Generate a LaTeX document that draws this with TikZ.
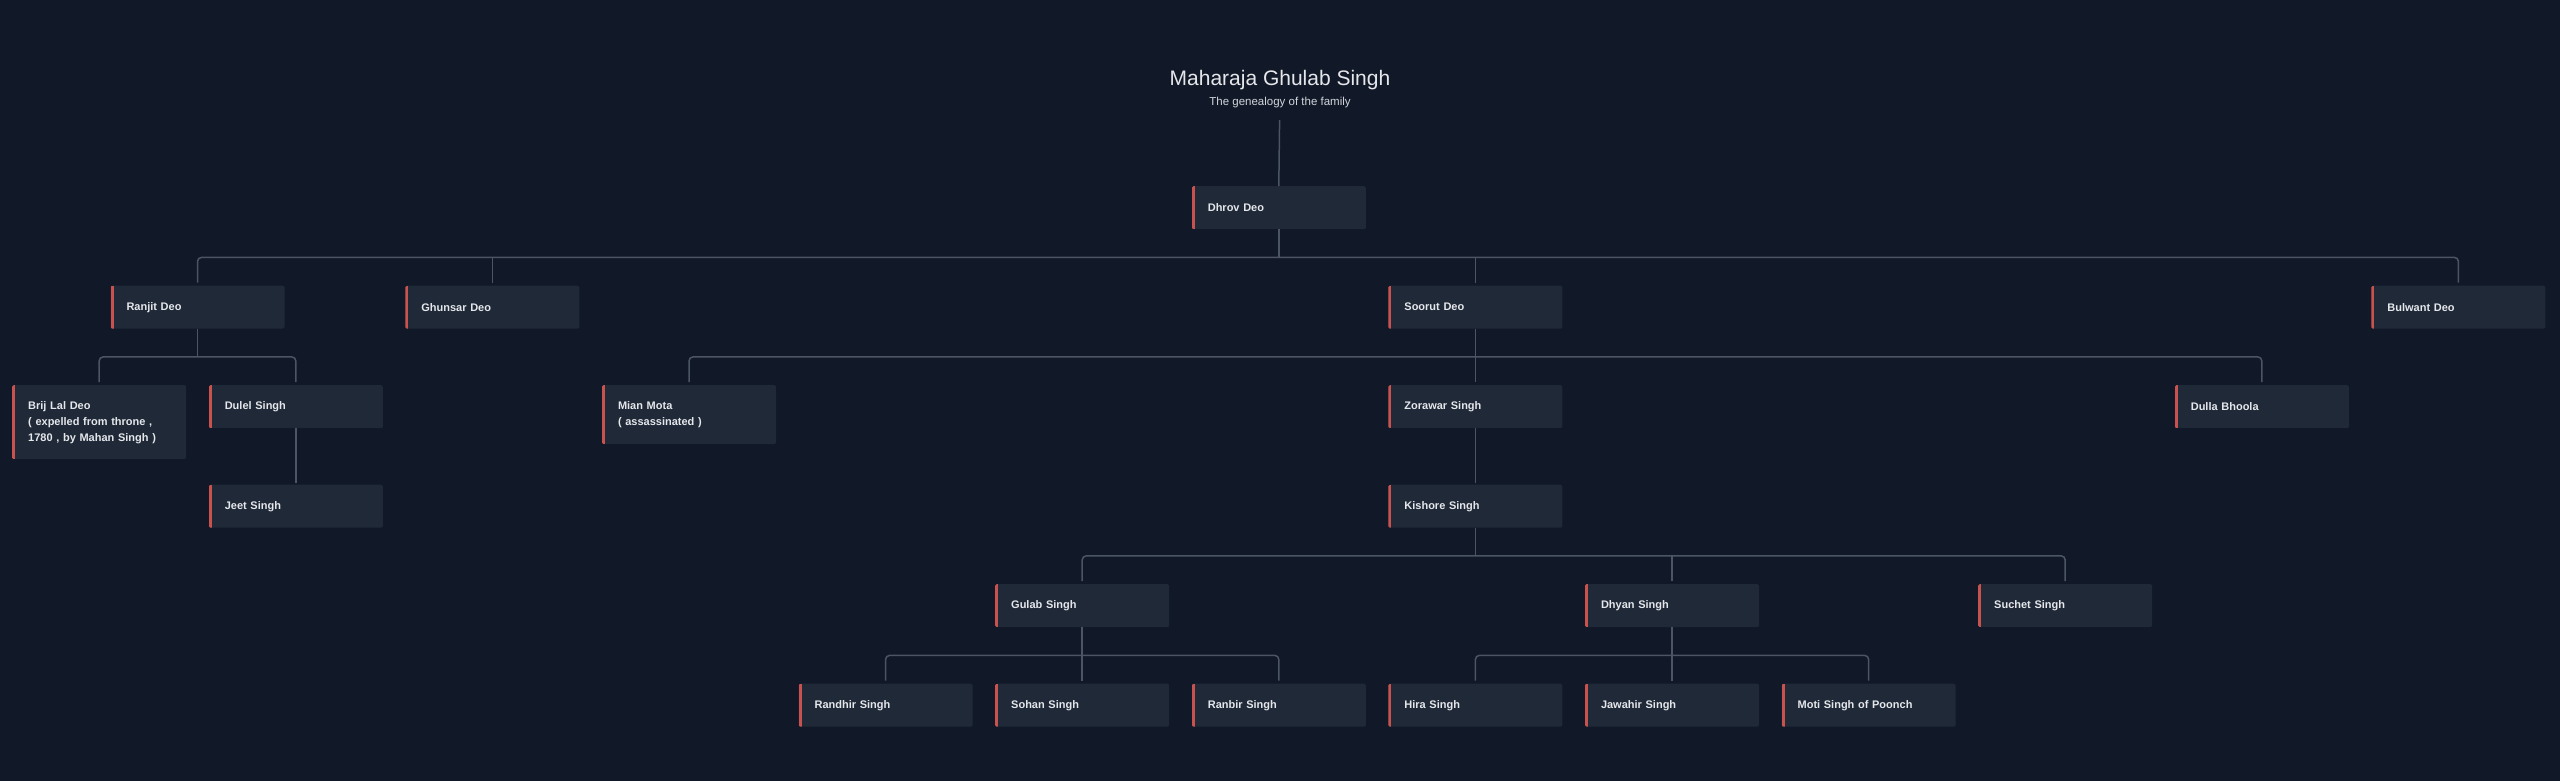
\documentclass[tikz,border=0pt]{standalone}
\usepackage{fontspec}
\setmainfont{Liberation Sans}
\definecolor{bg}{HTML}{111827}
\definecolor{card}{HTML}{1F2937}
\definecolor{accent}{HTML}{C9524F}
\definecolor{wire}{HTML}{4B5563}
\definecolor{ink}{HTML}{E5E7EB}
\definecolor{subink}{HTML}{D1D5DB}
\begin{document}
\begin{tikzpicture}[x=1pt,y=-1pt,
 person/.style={anchor=north west, fill=card, rounded corners=1.5pt,
   minimum width=174pt, minimum height=43pt, text width=142pt,
   inner xsep=16pt, inner ysep=2pt, align=left, text=ink,
   font=\fontsize{11}{16}\selectfont\bfseries,
   path picture={\fill[accent, sharp corners] (path picture bounding box.north west) rectangle ([xshift=3pt]path picture bounding box.south west);}},
 conn/.style={draw=wire, line width=1.5pt, rounded corners=4pt}]
\useasboundingbox (0,0) rectangle (2560,780);
\fill[bg] (-5,-5) rectangle (2565,785);

\node[anchor=base, text=ink, font=\fontsize{21}{25}\selectfont] (title) at (1280,85) {Maharaja Ghulab Singh};
\node[anchor=base, text=subink, font=\fontsize{11.5}{13}\selectfont] (subtitle) at (1280,105) {The genealogy of the family};
\coordinate (top) at (1279.6,120);

% row 0
\node[person] (dhrov) at (1191.6,186) {Dhrov Deo};
% row 1
\node[person] (ranjit) at (110.3,285.5) {Ranjit Deo};
\node[person] (ghunsar) at (405.2,285.5) {Ghunsar Deo};
\node[person] (soorut) at (1388.2,285.5) {Soorut Deo};
\node[person] (bulwant) at (2371.2,285.5) {Bulwant Deo};
% row 2
\node[person, minimum height=74pt] (brij) at (12,385) {Brij Lal Deo\\( expelled from throne ,\\1780 , by Mahan Singh )};
\node[person] (dulel) at (208.6,385) {Dulel Singh};
\node[person, minimum height=59pt] (mian) at (601.8,385) {Mian Mota\\( assassinated )};
\node[person] (zorawar) at (1388.2,385) {Zorawar Singh};
\node[person] (dulla) at (2174.6,385) {Dulla Bhoola};
% row 3
\node[person] (jeet) at (208.6,484.5) {Jeet Singh};
\node[person] (kishore) at (1388.2,484.5) {Kishore Singh};
% row 4
\node[person] (gulab) at (995,584) {Gulab Singh};
\node[person] (dhyan) at (1584.8,584) {Dhyan Singh};
\node[person] (suchet) at (1978,584) {Suchet Singh};
% row 5
\node[person] (randhir) at (798.4,683.5) {Randhir Singh};
\node[person] (sohan) at (995,683.5) {Sohan Singh};
\node[person] (ranbir) at (1191.6,683.5) {Ranbir Singh};
\node[person] (hira) at (1388.2,683.5) {Hira Singh};
\node[person] (jawahir) at (1584.8,683.5) {Jawahir Singh};
\node[person] (moti) at (1781.4,683.5) {Moti Singh of Poonch};

% connectors
\draw[conn] (top) -- (dhrov.north);

% Dhrov family
\coordinate (b0) at ([yshift=-28pt]dhrov.south);
\draw[conn] (dhrov.south) -- (b0);
\draw[conn] ([yshift=3pt]ranjit.north) |- (b0) -| ([yshift=3pt]bulwant.north);
\draw[conn] (b0 -| ghunsar.north) -- ([yshift=3pt]ghunsar.north);
\draw[conn] (b0 -| soorut.north) -- ([yshift=3pt]soorut.north);

% Ranjit family
\coordinate (b1) at ([yshift=-28pt]ranjit.south);
\draw[conn] (ranjit.south) -- (b1);
\draw[conn] ([yshift=3pt]brij.north) |- (b1) -| ([yshift=3pt]dulel.north);

% Soorut family
\coordinate (b2) at ([yshift=-28pt]soorut.south);
\draw[conn] (soorut.south) -- (b2);
\draw[conn] ([yshift=3pt]mian.north) |- (b2) -| ([yshift=3pt]dulla.north);
\draw[conn] (b2) -- ([yshift=3pt]zorawar.north);

% single lines
\draw[conn] (dulel.south) -- ([yshift=2pt]jeet.north);
\draw[conn] (zorawar.south) -- ([yshift=2pt]kishore.north);

% Kishore family
\coordinate (b3) at ([yshift=-28pt]kishore.south);
\draw[conn] (kishore.south) -- (b3);
\draw[conn] ([yshift=3pt]gulab.north) |- (b3) -| ([yshift=3pt]suchet.north);
\draw[conn] (b3 -| dhyan.north) -- ([yshift=3pt]dhyan.north);

% Gulab family
\coordinate (b4) at ([yshift=-28pt]gulab.south);
\draw[conn] (gulab.south) -- (b4);
\draw[conn] ([yshift=3pt]randhir.north) |- (b4) -| ([yshift=3pt]ranbir.north);
\draw[conn] (b4) -- ([yshift=3pt]sohan.north);

% Dhyan family
\coordinate (b5) at ([yshift=-28pt]dhyan.south);
\draw[conn] (dhyan.south) -- (b5);
\draw[conn] ([yshift=3pt]hira.north) |- (b5) -| ([yshift=3pt]moti.north);
\draw[conn] (b5) -- ([yshift=3pt]jawahir.north);
\end{tikzpicture}
\end{document}
